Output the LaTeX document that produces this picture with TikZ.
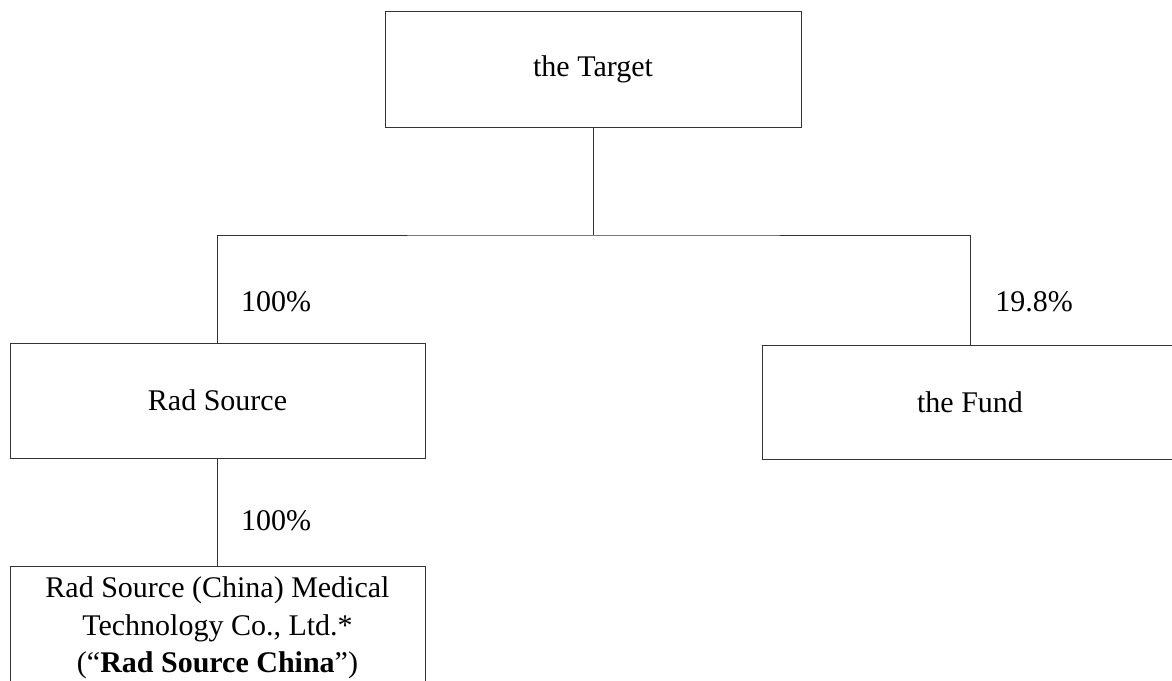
\documentclass[tikz,border=0pt]{standalone}
\usepackage{fontspec}
\setmainfont{Liberation Serif}
\begin{document}
\begin{tikzpicture}[x=1pt,y=-1pt,
  ent/.style={draw=black!80,line width=1pt,fill=white,minimum width=416pt,minimum height=116pt,inner sep=0pt,align=center,font=\fontsize{30}{37.5}\selectfont},
  pct/.style={inner sep=0pt,font=\fontsize{30}{37}\selectfont},
  conn/.style={draw=black!80,line width=1pt}]
\useasboundingbox (0,0) rectangle (1172,680);
\clip (0,0) rectangle (1172,680);
\node[ent] (T) at (593,69) {the Target};
\node[ent,minimum width=415pt,minimum height=115pt] (RS) at (217.5,400.5) {Rad Source};
\node[ent,minimum height=114pt] (F) at (970,402) {the Fund};
\node[ent,minimum width=415pt,minimum height=124pt] (RSC) at (217.5,628) {Rad Source (China) Medical\\Technology Co., Ltd.*\\(“\textbf{Rad Source China}”)};
\coordinate (split) at (593,235);
\draw[conn] (T.south) -- (split);
\draw[conn] (RS.north) |- (split) -| (F.north);
\draw[conn] (RS.south) -- (RSC.north);
\node[pct] (p1) at (276,302) {100\%};
\node[pct] (p2) at (1034,302) {19.8\%};
\node[pct] (p3) at (276,521) {100\%};
\end{tikzpicture}
\end{document}
